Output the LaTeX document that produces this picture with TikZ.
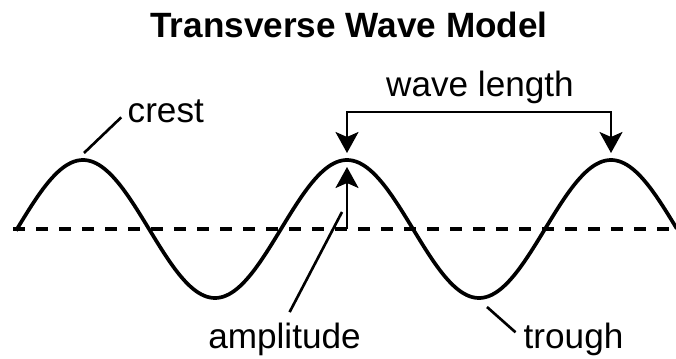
\documentclass[tikz,border=0pt]{standalone}
\usepackage{fontspec}
\setmainfont{Liberation Sans}
\usetikzlibrary{arrows.meta}

\begin{document}
\begin{tikzpicture}[
  wave/.style={line width=1.05pt, line join=round},
  axis/.style={line width=0.95pt, dash pattern=on 0.12cm off 0.11cm},
  arrow/.style={->, line width=0.7pt, >={Stealth[length=0.21cm, width=0.23cm, inset=0.05cm]}},
  leader/.style={line width=0.75pt},
  label/.style={font=\fontsize{10}{12}\selectfont, inner sep=0pt}
]
\useasboundingbox (0,0) rectangle (6.76,3.58);

% Title
\node[label, font=\fontsize{10}{12}\selectfont\bfseries, anchor=base] (title) at (3.49, 3.20) {Transverse Wave Model};

% Rest line and the wave itself
\coordinate (axis-start) at (0.13, 1.29);
\coordinate (axis-end) at (6.76, 1.29);
\draw[axis] (axis-start) -- (axis-end);
\draw[wave] plot[domain=0.16:6.77, samples=240, smooth] (\x, {1.29+0.69*sin(360*(\x-0.17)/2.64)});

% Points on the wave
\coordinate (crest-pt) at (0.84, 2.05);
\coordinate (wl-left) at (3.47, 2.05);
\coordinate (wl-right) at (6.11, 2.05);
\coordinate (amp-base) at (3.47, 1.29);
\coordinate (amp-tip) at (3.47, 1.91);
\coordinate (amp-pt) at (3.42, 1.46);
\coordinate (trough-pt) at (4.87, 0.51);

% Labels
\node[label, anchor=base west] (crest) at (1.27, 2.35) {crest};
\node[label, anchor=base] (wl) at (4.80, 2.61) {wave length};
\node[label, anchor=base] (amplitude) at (2.845, 0.10) {amplitude};
\node[label, anchor=base west] (trough) at (5.23, 0.10) {trough};

% Wave length bracket
\draw[arrow, <->] (wl-left) -- ++(0,0.41) -| (wl-right);

% Amplitude arrow
\draw[arrow] (amp-base) -- (amp-tip);

% Leader lines
\draw[leader, shorten >=0.08cm] (crest-pt) -- (crest.west);
\draw[leader, shorten >=0.11cm] (amp-pt) -- (amplitude.north);
\draw[leader, shorten >=0.10cm] (trough-pt) -- (trough.west);
\end{tikzpicture}
\end{document}
